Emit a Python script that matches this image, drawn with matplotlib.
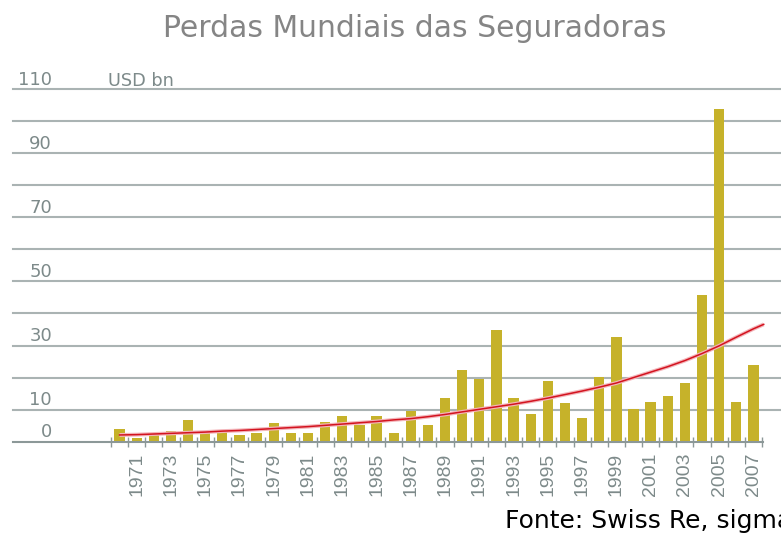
import matplotlib
matplotlib.use('Agg')
import matplotlib.pyplot as plt
import matplotlib.transforms as mtransforms

# Insured losses by year, USD bn
years = list(range(1970, 2008))
losses = [3.9, 1.0, 2.6, 3.3, 6.8, 3.3, 3.3, 2.1, 2.8, 5.7,
          2.8, 2.8, 6.2, 8.0, 5.2, 8.0, 2.8, 9.7, 5.1, 13.6,
          22.4, 19.5, 34.8, 13.6, 8.5, 18.8, 12.0, 7.4, 20.1, 32.6,
          10.2, 12.5, 14.3, 18.2, 45.8, 103.7, 12.5, 23.9]
# Trend curve at each year, plus where it ends
trend_years = years + [2007.6]
trend = [2.1, 2.2, 2.4, 2.6, 2.8, 3.0, 3.3, 3.5, 3.8, 4.1,
         4.4, 4.7, 5.1, 5.5, 5.9, 6.3, 6.8, 7.2, 7.8, 8.5,
         9.3, 10.1, 10.9, 11.7, 12.6, 13.6, 14.7, 15.8, 17.0, 18.3,
         20.0, 21.7, 23.4, 25.3, 27.5, 29.9, 32.6, 35.2, 36.6]
ytick_labels = [0, 10, 30, 50, 70, 90, 110]
gridlines = [10, 20, 30, 40, 50, 60, 70, 80, 90, 100, 110]
label_years = list(range(1971, 2008, 2))

bar_color = '#c6b22a'
grid_color = '#aab3b3'
axis_color = '#8c9898'
text_gray = '#7d8a8a'

W, H = 781, 535
fig = plt.figure(figsize=(W / 100, H / 100), dpi=100)
ax = fig.add_axes([13 / W, (H - 441.7) / H, (W - 13) / W, (441.7 - 89) / H])

for v in gridlines:
    ax.axhline(v, color=grid_color, lw=1.5, zorder=1, clip_on=False)

ax.bar(years, losses, width=0.6, color=bar_color, zorder=3)
ax.plot(trend_years, trend, color='#f3b5ba', lw=2.8, zorder=4, solid_capstyle='butt')
ax.plot(trend_years, trend, color='#d3131f', lw=1.1, zorder=5)

ax.set_xlim(1963.78, 2008.61)
ax.set_ylim(0, 110)
ax.plot([1963.78, 2007.56], [0, 0], color=axis_color, lw=1.5, clip_on=False, zorder=6)

for s in ax.spines.values():
    s.set_visible(False)
ax.set_yticks([])

ax.set_xticks(label_years)
ax.set_xticklabels([str(y) for y in label_years], rotation=90,
                   family='Liberation Sans', fontsize=14, color=text_gray)
ax.tick_params(axis='x', which='major', length=0, pad=8)
ax.set_xticks([y - 0.5 for y in years] + [years[-1] + 0.5], minor=True)
ax.tick_params(axis='x', which='minor', length=7, width=1, direction='inout',
               color=axis_color)

trans = mtransforms.blended_transform_factory(fig.transFigure, ax.transData)
for v in ytick_labels:
    ax.text(52 / W, v + 1.4, str(v), transform=trans, ha='right', va='baseline',
            fontsize=13, color=text_gray, clip_on=False)

fig.text(108 / W, (H - 85.7) / H, 'USD bn', ha='left', va='baseline',
         fontsize=12.8, color=text_gray)

fig.text(415 / W, (H - 37) / H, 'Perdas Mundiais das Seguradoras', ha='center',
         va='baseline', fontsize=21.5, color='#858585')

fig.text(505 / W, (H - 528) / H, 'Fonte: Swiss Re, sigma', ha='left',
         va='baseline', fontsize=18, color='black')

fig.savefig('out.png', dpi=100)
